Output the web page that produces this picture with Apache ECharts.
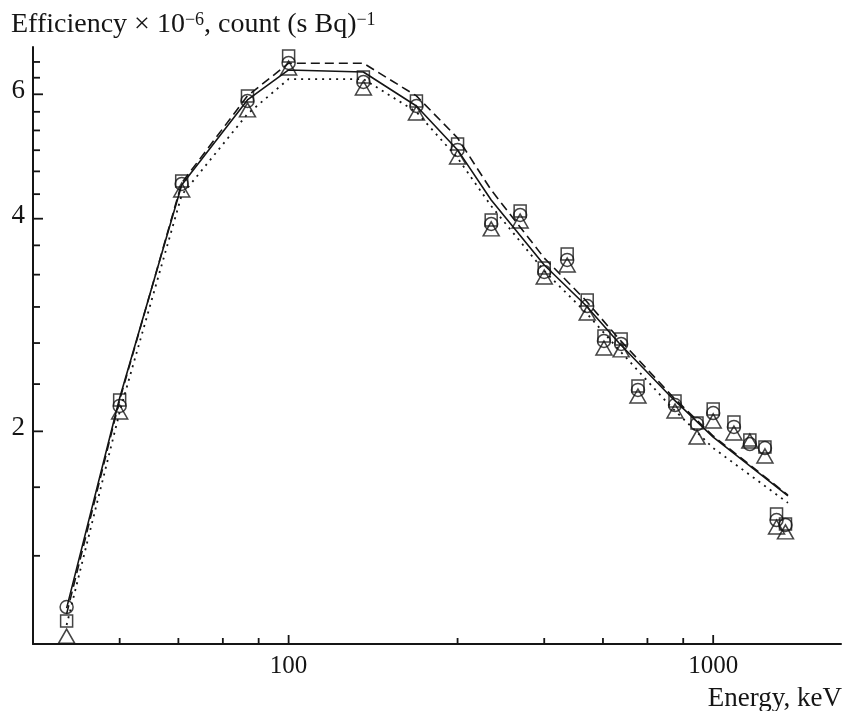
<!DOCTYPE html>
<html>
<head>
<meta charset="utf-8">
<script src="https://cdn.jsdelivr.net/npm/echarts@6/dist/echarts.min.js"></script>
<style>
html,body{margin:0;padding:0;background:#fff;}
#main{width:846px;height:711px;}
</style>
</head>
<body>
<div id="main"></div>
<script>
// ---- data ----
const markerEnergies = [30, 40, 56, 80, 100, 150, 200, 250, 300, 351, 400, 453, 505, 553, 607, 665, 813, 916, 1000, 1119, 1220, 1324, 1410, 1480];
const circleVals   = [1.128, 2.173, 4.479, 5.871, 6.645, 6.246, 5.776, 5.004, 3.932, 4.049, 3.362, 3.497, 3.009, 2.685, 2.659, 2.289, 2.179, 2.048, 2.123, 2.029, 1.919, 1.894, 1.498, 1.474];
const squareVals   = [1.078, 2.215, 4.523, 5.968, 6.798, 6.348, 5.871, 5.104, 3.983, 4.102, 3.406, 3.565, 3.069, 2.729, 2.703, 2.319, 2.208, 2.055, 2.151, 2.062, 1.944, 1.900, 1.528, 1.479];
const triangleVals = [1.026, 2.130, 4.392, 5.702, 6.537, 6.125, 5.645, 4.891, 3.869, 3.970, 3.307, 3.440, 2.942, 2.624, 2.608, 2.244, 2.137, 1.963, 2.069, 1.989, 1.938, 1.846, 1.464, 1.441];

const lineEnergies = [30, 40, 56, 80, 100, 150, 200, 250, 300, 400, 500, 600, 800, 1000, 1500];
const solidVals    = [1.124, 2.230, 4.465, 5.890, 6.495, 6.452, 5.776, 5.005, 4.251, 3.440, 3.019, 2.668, 2.230, 1.963, 1.620];
const dashedVals   = [1.103, 2.215, 4.494, 5.968, 6.640, 6.640, 5.968, 5.204, 4.392, 3.519, 3.069, 2.703, 2.244, 1.970, 1.625];
const dottedVals   = [1.064, 2.130, 4.321, 5.627, 6.306, 6.306, 5.664, 4.875, 4.169, 3.373, 2.951, 2.608, 2.159, 1.894, 1.584];

const xMajorTicks = [100, 1000];
const xMinorTicks = [40, 55, 70, 85, 250, 400, 550, 700, 850];
const xLabelVals  = [100, 1000];
const yMajorTicks = [2, 4, 6];
const yMinorTicks = [1.333, 1.667, 2.333, 2.667, 3, 3.333, 3.667, 4.333, 4.667, 5, 5.333, 5.667, 6.333, 6.667];
const yLabelVals  = [2, 4, 6];

const X_MIN = 25, X_MAX = 2000, Y_MIN = 1, Y_MAX = 7;
const INK = '#151515';
const FONT = 'Liberation Serif';

const zip = (xs, ys) => xs.map((x, i) => [x, ys[i]]);

const chart = echarts.init(document.getElementById('main'), null, {renderer: 'canvas'});

const markerStyle = {color: 'rgba(255,255,255,0)', borderColor: INK, borderWidth: 1.5};

const xTickData = xMajorTicks.map(v => [v, Y_MIN, 1]).concat(xMinorTicks.map(v => [v, Y_MIN, 0]));
const yTickData = yMajorTicks.map(v => [X_MIN, v, 1]).concat(yMinorTicks.map(v => [X_MIN, v, 0]));
const yLabelData = yLabelVals.map(v => [X_MIN, v]);

chart.setOption({
  animation: false,
  backgroundColor: '#fff',
  title: [
    {
      text: 'Efficiency × 10{sup|−6}, count (s Bq){sup|−1}',
      left: 11, top: 11, padding: 0,
      textStyle: {
        fontFamily: FONT, fontSize: 28, fontWeight: 'normal', color: INK,
        rich: {sup: {fontFamily: FONT, fontSize: 18, color: INK, verticalAlign: 'top', padding: [0, 0, 10, 0]}}
      }
    },
    {
      text: 'Energy, keV',
      right: 4, top: 685, padding: 0,
      textStyle: {fontFamily: FONT, fontSize: 27, fontWeight: 'normal', color: INK}
    }
  ],
  grid: {left: 33, right: 5, top: 47, bottom: 67, containLabel: false, outerBoundsMode: 'none'},
  xAxis: {
    type: 'log', logBase: 10, min: X_MIN, max: X_MAX,
    axisLine: {show: true, onZero: false, lineStyle: {color: INK, width: 2}},
    axisTick: {show: false},
    splitLine: {show: false},
    minorTick: {show: false},
    axisLabel: {
      show: true, margin: 10, color: INK, fontFamily: FONT, fontSize: 25,
      showMinLabel: true, showMaxLabel: true,
      formatter: function (v) {
        for (const l of xLabelVals) { if (Math.abs(v - l) / l < 1e-6) return String(l); }
        return '';
      }
    }
  },
  yAxis: {
    type: 'log', logBase: 10, min: Y_MIN, max: Y_MAX,
    axisLine: {show: true, onZero: false, lineStyle: {color: INK, width: 2}},
    axisTick: {show: false},
    splitLine: {show: false},
    minorTick: {show: false},
    axisLabel: {show: false}
  },
  series: [
    {
      type: 'line', name: 'solid', data: zip(lineEnergies, solidVals),
      showSymbol: false, symbol: 'none', z: 2,
      lineStyle: {color: INK, width: 1.6, type: 'solid'}
    },
    {
      type: 'line', name: 'dashed', data: zip(lineEnergies, dashedVals),
      showSymbol: false, symbol: 'none', z: 2,
      lineStyle: {color: INK, width: 1.6, type: [9, 5]}
    },
    {
      type: 'line', name: 'dotted', data: zip(lineEnergies, dottedVals),
      showSymbol: false, symbol: 'none', z: 2,
      lineStyle: {color: INK, width: 1.8, type: [2, 5]}
    },
    {
      type: 'scatter', name: 'circles', data: zip(markerEnergies, circleVals),
      symbol: 'circle', symbolSize: 13, itemStyle: markerStyle, z: 3, clip: false
    },
    {
      type: 'scatter', name: 'squares', data: zip(markerEnergies, squareVals),
      symbol: 'rect', symbolSize: 12, itemStyle: markerStyle, z: 3, clip: false
    },
    {
      type: 'scatter', name: 'triangles', data: zip(markerEnergies, triangleVals),
      symbol: 'triangle', symbolSize: [16, 14], itemStyle: markerStyle, z: 3, clip: false
    },
    {
      type: 'custom', name: 'xticks', data: xTickData, clip: false, z: 5, silent: true,
      renderItem: function (params, api) {
        const p = api.coord([api.value(0), api.value(1)]);
        const len = api.value(2) ? 9 : 6;
        return {type: 'line', shape: {x1: p[0], y1: p[1], x2: p[0], y2: p[1] - len},
                style: {stroke: INK, lineWidth: 1.8}};
      }
    },
    {
      type: 'custom', name: 'yticks', data: yTickData, clip: false, z: 5, silent: true,
      renderItem: function (params, api) {
        const p = api.coord([api.value(0), api.value(1)]);
        const len = api.value(2) ? 10 : 7;
        return {type: 'line', shape: {x1: p[0], y1: p[1], x2: p[0] + len, y2: p[1]},
                style: {stroke: INK, lineWidth: 1.8}};
      }
    },
    {
      type: 'custom', name: 'ylabels', data: yLabelData, clip: false, z: 5, silent: true,
      renderItem: function (params, api) {
        const p = api.coord([api.value(0), api.value(1)]);
        return {type: 'text', x: p[0] - 8, y: p[1] - 3,
                style: {text: String(api.value(1)), align: 'right', verticalAlign: 'middle',
                        fontFamily: FONT, fontSize: 27, fill: INK}};
      }
    }
  ]
});
</script>
</body>
</html>
